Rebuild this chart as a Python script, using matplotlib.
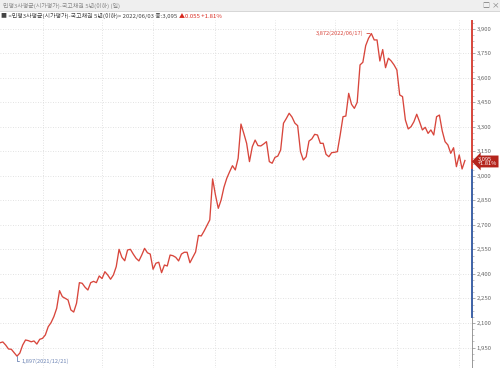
import matplotlib
matplotlib.use("Agg")
import matplotlib.pyplot as plt
from matplotlib.patches import Rectangle
from matplotlib.lines import Line2D
import numpy as np

plt.rcParams['font.family'] = ['Noto Sans CJK KR', 'DejaVu Sans']

# ---- data ----
title_text = "민평3사평균(시가평가)-국고채권 5년(이하) (일)"
legend_text = "■ <민평3사평균(시가평가)-국고채권 5년(이하)> 2022/06/03 종:3,095 "
legend_change = "▲0.055 +1.81%"
last_value_label = "3,095\n+1.81%"
max_label = "3,872(2022/06/17)"
min_label = "1,897(2021/12/21)"

values = [
    1979, 1984, 1965, 1941, 1939, 1918, 1897, 1916, 1965, 1996,
    1992, 1985, 1990, 1971, 2000, 2006, 2027, 2077, 2102, 2139,
    2190, 2298, 2261, 2251, 2241, 2180, 2167, 2221, 2347, 2343,
    2319, 2302, 2347, 2355, 2347, 2388, 2372, 2414, 2394, 2368,
    2394, 2445, 2551, 2502, 2481, 2547, 2551, 2522, 2496, 2480,
    2516, 2557, 2530, 2522, 2429, 2466, 2472, 2408, 2455, 2449,
    2516, 2512, 2502, 2480, 2522, 2533, 2533, 2469, 2502, 2535,
    2636, 2633, 2663, 2697, 2731, 2982, 2884, 2802, 2853, 2931,
    2986, 3026, 3063, 3037, 3108, 3318, 3261, 3200, 3088, 3179,
    3220, 3186, 3184, 3196, 3210, 3088, 3078, 3114, 3122, 3159,
    3323, 3352, 3384, 3361, 3324, 3308, 3149, 3098, 3118, 3214,
    3227, 3255, 3251, 3200, 3200, 3133, 3118, 3143, 3145, 3149,
    3251, 3363, 3367, 3506, 3439, 3414, 3451, 3680, 3696, 3798,
    3843, 3872, 3833, 3833, 3704, 3774, 3663, 3721, 3704, 3680,
    3649, 3496, 3486, 3343, 3288, 3302, 3332, 3378, 3332, 3282,
    3298, 3261, 3282, 3251, 3363, 3373, 3276, 3210, 3190, 3139,
    3173, 3057, 3129, 3043, 3095,
]
month_starts = [15, 36, 54, 76, 97, 118, 140, 162]
yticks = [1950, 2100, 2250, 2400, 2550, 2700, 2850, 3000, 3150, 3300, 3450, 3600, 3750, 3900]
red_range = (3037, 3949)
blue_range = (2137, 3037)

# ---- styles ----
LINE = '#d8463c'
GRID = '#d9d9d9'
TXT = '#666666'

W, H = 500, 368
fig = plt.figure(figsize=(W / 100, H / 100), dpi=100)
fig.patch.set_facecolor('white')

# header bar
fig.patches.append(Rectangle((0, 1 - 11 / H), 1, 11 / H, transform=fig.transFigure,
                             facecolor='#efefef', edgecolor='none', zorder=0))
fig.lines.append(Line2D([0, 1], [1 - 11 / H, 1 - 11 / H], transform=fig.transFigure,
                        color='#d0d0d0', lw=0.6))
fig.text(3 / W, 1 - 5.5 / H, title_text, fontsize=4.3, color='#8a8a8a', va='center', ha='left')
fig.text(486 / W, 1 - 5.5 / H, "□", fontsize=5, color='#777777', va='center', ha='center')
fig.text(495 / W, 1 - 5.5 / H, "×", fontsize=5.5, color='#777777', va='center', ha='center')

t1 = fig.text(1 / W, 1 - 16 / H, legend_text, fontsize=4.3, color='#444444', va='center', ha='left')
ax_top = fig.add_axes([0, 0, 1, 1], frameon=False)
ax_top.set_axis_off()
ax_top.annotate(legend_change, xy=(1, 0.5), xycoords=t1, fontsize=4.3, color='#d8281e',
                va='center', ha='left')

# main axes
top_px = 20
ax = fig.add_axes([0, 0, 472 / W, (H - top_px) / H])
ax.set_facecolor('none')
x = np.arange(len(values))
ax.plot(x, values, color=LINE, lw=0.95, zorder=3)

ax.set_xlim(0, 166.5)
ax.set_ylim(1824.5, 3955)

for s in ['top', 'left', 'bottom']:
    ax.spines[s].set_visible(False)
ax.spines['right'].set_color('#888888')
ax.spines['right'].set_linewidth(0.6)

ax.set_xticks([])
ax.yaxis.tick_right()
ax.set_yticks(yticks)
ax.set_yticklabels([f"{v:,}" for v in yticks])
ax.set_yticks(np.arange(1875, 3955, 37.5), minor=True)
ax.tick_params(axis='y', which='major', length=2.5, width=0.5, color='#888888', pad=1,
               labelsize=4.3, labelcolor=TXT)
ax.tick_params(axis='y', which='minor', length=1.2, width=0.4, color='#999999')

for v in yticks:
    ax.axhline(v, color=GRID, lw=0.6, ls=(0, (1, 2)), zorder=1)
for m in month_starts:
    ax.axvline(m, color=GRID, lw=0.6, ls=(0, (1, 2)), zorder=1)

# colored axis segments
yt = ax.get_yaxis_transform()
ax.add_line(Line2D([1, 1], list(red_range), transform=yt, color='#d8463c', lw=1.4, clip_on=False, zorder=5))
ax.add_line(Line2D([1, 1], list(blue_range), transform=yt, color='#3f63a8', lw=1.4, clip_on=False, zorder=5))

# last value box
ax.annotate(last_value_label, xy=(1, values[-1]), xycoords=yt, xytext=(6, -1),
            textcoords='offset pixels', fontsize=4.1, color='white', ha='left', va='center',
            linespacing=0.9, annotation_clip=False, zorder=6,
            bbox=dict(boxstyle='larrow,pad=0.2', fc='#b4241c', ec='none'))

# max / min annotations
imax = int(np.argmax(values))
imin = int(np.argmin(values))
ax.annotate(max_label, xy=(imax, values[imax]), xytext=(-8, 0), textcoords='offset pixels',
            fontsize=4.1, color='#d8463c', ha='right', va='center',
            arrowprops=dict(arrowstyle='-', color='#d8463c', lw=0.6, shrinkA=0.5, shrinkB=1))
ax.annotate(min_label, xy=(imin, values[imin]), xytext=(5, -5), textcoords='offset pixels',
            fontsize=4.1, color='#6d84b4', ha='left', va='center',
            arrowprops=dict(arrowstyle='-', color='#6d84b4', lw=0.6, shrinkA=0, shrinkB=0,
                            connectionstyle='angle,angleA=0,angleB=90,rad=0'))

fig.savefig('out.png', dpi=100)
